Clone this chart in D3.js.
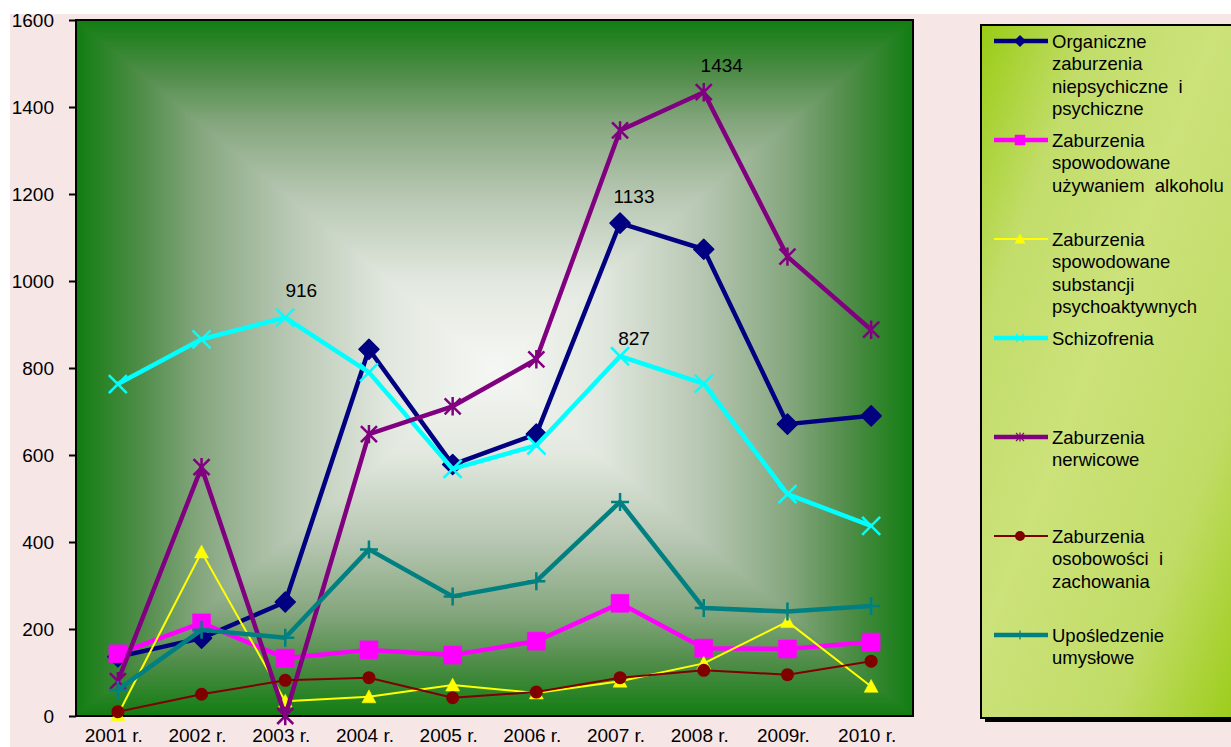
<!DOCTYPE html>
<html>
<head>
<meta charset="utf-8">
<script src="https://cdn.jsdelivr.net/npm/d3@7"></script>
<style>
  body { margin: 0; background: #ffffff; }
  svg { display: block; }
  text { font-family: "Liberation Sans", Arial, sans-serif; fill: #000; }
</style>
</head>
<body>
<svg id="chart" width="1231" height="747"></svg>
<script>
// ---- data ----
const years = ["2001 r.", "2002 r.", "2003 r.", "2004 r.", "2005 r.", "2006 r.", "2007 r.", "2008 r.", "2009r.", "2010 r."];
const organiczne   = [136, 179, 262, 843, 578, 648, 1133, 1073, 671, 690];
const alkohol      = [143, 214, 133, 152, 140, 172, 259, 156, 154, 170];
const substancje   = [3, 377, 34, 44, 71, 53, 80, 121, 217, 68];
const schizofrenia = [763, 866, 916, 790, 568, 622, 827, 764, 510, 437];
const nerwicowe    = [80, 572, 0, 648, 712, 820, 1346, 1434, 1056, 888];
const osobowosc    = [10, 50, 82, 88, 42, 55, 88, 105, 95, 126];
const uposledzenie = [60, 198, 180, 383, 275, 310, 492, 248, 240, 253];
const yTicks = [0, 200, 400, 600, 800, 1000, 1200, 1400, 1600];

const seriesNames = {
  organiczne:   ["Organiczne", "zaburzenia", "niepsychiczne  i", "psychiczne"],
  alkohol:      ["Zaburzenia", "spowodowane", "używaniem  alkoholu"],
  substancje:   ["Zaburzenia", "spowodowane", "substancji", "psychoaktywnych"],
  schizofrenia: ["Schizofrenia"],
  nerwicowe:    ["Zaburzenia", "nerwicowe"],
  osobowosc:    ["Zaburzenia", "osobowości  i", "zachowania"],
  uposledzenie: ["Upośledzenie", "umysłowe"]
};

// values printed above selected points
const valueLabels = [
  { key: "schizofrenia", index: 2 },
  { key: "organiczne",   index: 6 },
  { key: "nerwicowe",    index: 7 },
  { key: "schizofrenia", index: 6 }
];

// ---- styling ----
const series = [
  { key: "organiczne",   values: organiczne,   color: "#000080", width: 4.5, marker: "diamond" },
  { key: "alkohol",      values: alkohol,      color: "#ff00ff", width: 4.5, marker: "square" },
  { key: "substancje",   values: substancje,   color: "#ffff00", width: 2,   marker: "triangle" },
  { key: "schizofrenia", values: schizofrenia, color: "#00ffff", width: 4.5, marker: "cross" },
  { key: "nerwicowe",    values: nerwicowe,    color: "#800080", width: 4.5, marker: "star" },
  { key: "osobowosc",    values: osobowosc,    color: "#800000", width: 2,   marker: "circle" },
  { key: "uposledzenie", values: uposledzenie, color: "#008080", width: 4.5, marker: "plus" }
];

const W = 1231, H = 747;
const plot = { left: 76, top: 20, right: 913, bottom: 716 };

const svg = d3.select("#chart");

// page background
svg.append("rect").attr("x", 10).attr("y", 14).attr("width", W - 10).attr("height", H - 14).attr("fill", "#f6e6e6");

const x = d3.scaleBand().domain(years).range([plot.left, plot.right]);
const y = d3.scaleLinear().domain([0, 1600]).range([plot.bottom, plot.top]);
const cxOf = d => x(d) + x.bandwidth() / 2;

// ---- plot background: rectangular gradient from the centre outwards ----
(function () {
  const pw = plot.right - plot.left, ph = plot.bottom - plot.top;
  const cv = document.createElement("canvas");
  cv.width = pw; cv.height = ph;
  const ctx = cv.getContext("2d");
  const img = ctx.createImageData(pw, ph);
  const ramp = d3.scaleLinear()
    .domain([0, 0.25, 0.5, 0.7, 0.85, 1])
    .range(["#f6f7f4", "#e2e8df", "#b6c6b1", "#86a77f", "#4e8c47", "#117d11"])
    .interpolate(d3.interpolateRgb).clamp(true);
  const lut = d3.range(1001).map(i => d3.rgb(ramp(i / 1000)));
  const hx = pw / 2, hy = ph / 2;
  for (let j = 0; j < ph; j++) {
    for (let i = 0; i < pw; i++) {
      const t = Math.max(Math.abs(i + 0.5 - hx) / hx, Math.abs(j + 0.5 - hy) / hy);
      const c = lut[Math.min(1000, Math.round(t * 1000))];
      const k = (j * pw + i) * 4;
      img.data[k] = c.r; img.data[k + 1] = c.g; img.data[k + 2] = c.b; img.data[k + 3] = 255;
    }
  }
  ctx.putImageData(img, 0, 0);
  svg.append("image")
    .attr("x", plot.left).attr("y", plot.top)
    .attr("width", pw).attr("height", ph)
    .attr("href", cv.toDataURL());
})();

// frame
svg.append("rect")
  .attr("x", plot.left).attr("y", plot.top)
  .attr("width", plot.right - plot.left).attr("height", plot.bottom - plot.top)
  .attr("fill", "none").attr("stroke", "#000").attr("stroke-width", 2);

// y axis
const yAxis = svg.append("g")
  .attr("transform", `translate(${plot.left},0)`)
  .call(d3.axisLeft(y).tickValues(yTicks).tickSize(7).tickPadding(15).tickFormat(d3.format("d")));
yAxis.select(".domain").remove();
yAxis.selectAll(".tick line").attr("stroke", "#000").attr("stroke-width", 2);
yAxis.selectAll(".tick text").attr("font-size", 19).attr("font-family", "Liberation Sans, Arial, sans-serif").attr("fill", "#000");

// x labels
svg.append("g").selectAll("text").data(years).join("text")
  .attr("x", d => cxOf(d) - 4)
  .attr("y", 742)
  .attr("text-anchor", "middle")
  .attr("font-size", 19)
  .text(d => d);

// ---- markers ----
function markerPath(type, s) {
  switch (type) {
    case "diamond":  return `M0,${-s}L${s},0L0,${s}L${-s},0Z`;
    case "square":   return `M${-s},${-s}H${s}V${s}H${-s}Z`;
    case "triangle": return `M0,${-s}L${s},${s * 0.85}L${-s},${s * 0.85}Z`;
    case "cross":    return `M${-s},${-s}L${s},${s}M${-s},${s}L${s},${-s}`;
    case "star":     return `M${-s},${-s}L${s},${s}M${-s},${s}L${s},${-s}M0,${-s * 1.15}V${s * 1.15}`;
    case "plus":     return `M0,${-s}V${s}M${-s},0H${s}`;
  }
  return "";
}
const markerSize = { diamond: 10, square: 9, triangle: 7, cross: 9, star: 8, circle: 6.5, plus: 9 };
const legendMarkerSize = { diamond: 5, square: 5, triangle: 5, cross: 4, star: 4, circle: 5, plus: 4.5 };
const filled = t => t === "diamond" || t === "square" || t === "triangle" || t === "circle";

function drawMarker(g, type, color, s, strokeW) {
  if (type === "circle") {
    g.append("circle").attr("r", s).attr("fill", color);
  } else if (filled(type)) {
    g.append("path").attr("d", markerPath(type, s)).attr("fill", color)
      .attr("stroke", color).attr("stroke-width", type === "diamond" ? 1.5 : 0.5).attr("stroke-linejoin", "round");
  } else {
    g.append("path").attr("d", markerPath(type, s)).attr("fill", "none")
      .attr("stroke", color).attr("stroke-width", strokeW);
  }
}

const line = d3.line().x((d, i) => cxOf(years[i])).y(d => y(d));

series.forEach(s => {
  const g = svg.append("g");
  g.append("path").datum(s.values)
    .attr("d", line)
    .attr("fill", "none").attr("stroke", s.color).attr("stroke-width", s.width)
    .attr("stroke-linejoin", "round");
  s.values.forEach((v, i) => {
    const m = g.append("g").attr("transform", `translate(${cxOf(years[i])},${y(v)})`);
    drawMarker(m, s.marker, s.color, markerSize[s.marker], 2.5);
  });
});

// value labels
const labelOffset = { "schizofrenia-2": [16, -21], "organiczne-6": [14, -20], "nerwicowe-7": [18, -20], "schizofrenia-6": [14, -11] };
valueLabels.forEach(l => {
  const s = series.find(d => d.key === l.key);
  const v = s.values[l.index];
  const off = labelOffset[`${l.key}-${l.index}`];
  svg.append("text")
    .attr("x", cxOf(years[l.index]) + off[0])
    .attr("y", y(v) + off[1])
    .attr("text-anchor", "middle")
    .attr("font-size", 19)
    .text(v);
});

// ---- legend ----
const defs = svg.append("defs");
const lg = defs.append("linearGradient").attr("id", "legendFill")
  .attr("x1", "0%").attr("y1", "0%").attr("x2", "100%").attr("y2", "100%");
lg.append("stop").attr("offset", "0%").attr("stop-color", "#99cc14");
lg.append("stop").attr("offset", "22%").attr("stop-color", "#c2dd6a");
lg.append("stop").attr("offset", "45%").attr("stop-color", "#cce27a");
lg.append("stop").attr("offset", "75%").attr("stop-color", "#c1dc66");
lg.append("stop").attr("offset", "100%").attr("stop-color", "#99cc14");

const legend = { x: 981, y: 25, w: 262, h: 693 };
svg.append("rect").attr("x", legend.x + 4).attr("y", legend.y + 4)
  .attr("width", legend.w).attr("height", legend.h).attr("fill", "#000");
svg.append("rect").attr("x", legend.x).attr("y", legend.y)
  .attr("width", legend.w).attr("height", legend.h)
  .attr("fill", "url(#legendFill)").attr("stroke", "#000").attr("stroke-width", 2);

const legendRowY = d3.scalePoint().domain(series.map(s => s.key)).range([41, 635]);
series.forEach(s => {
  const ly = legendRowY(s.key);
  const g = svg.append("g");
  g.append("line").attr("x1", 994).attr("x2", 1048).attr("y1", ly).attr("y2", ly)
    .attr("stroke", s.color).attr("stroke-width", s.width);
  const m = g.append("g").attr("transform", `translate(1020,${ly})`);
  drawMarker(m, s.marker, s.color, legendMarkerSize[s.marker], 1.2);
  seriesNames[s.key].forEach((t, k) => {
    g.append("text")
      .attr("x", 1052).attr("y", ly + k * 22.6 + 6.6)
      .attr("font-size", 18.5)
      .attr("xml:space", "preserve")
      .style("white-space", "pre")
      .text(t);
  });
});
</script>
</body>
</html>
